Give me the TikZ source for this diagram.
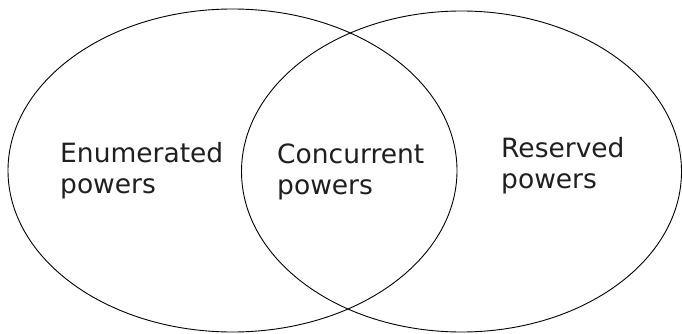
\documentclass[tikz,border=0pt]{standalone}
\usepackage{fontspec}
\setmainfont{DejaVu Sans}
\usetikzlibrary{positioning}
\tikzset{
  powers/.style={line width=0.9pt},
  regiontext/.style={anchor=base west, inner sep=0pt, align=left,
    font=\fontsize{26.5}{31}\selectfont, text=black!88},
}

\begin{document}
\begin{tikzpicture}[x=1pt, y=-1pt]
\useasboundingbox (0,0) rectangle (682,334);

\draw[powers] (232.5,170.5) ellipse [x radius=224.5, y radius=161.5];
\draw[powers] (461.5,171.5) ellipse [x radius=220, y radius=160.5];

\node(enum) [regiontext] at (60,193) {Enumerated\\powers};
\node(conc) [regiontext] at (277,194) {Concurrent\\powers};
\node(resv) [regiontext] at (501,188) {Reserved\\powers};
\end{tikzpicture}
\end{document}
